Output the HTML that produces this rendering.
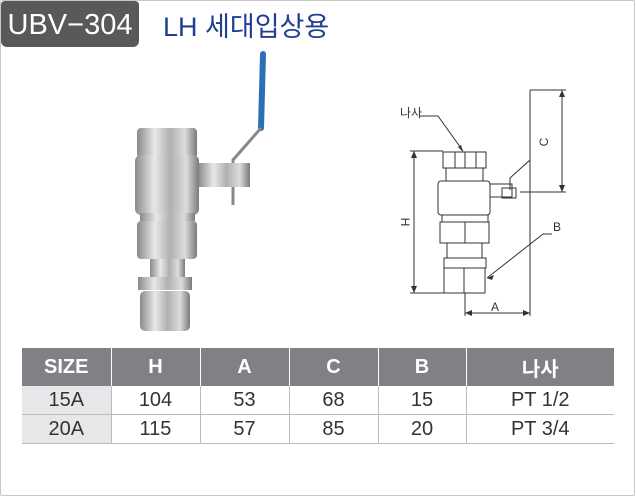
<!DOCTYPE html>
<html><head><meta charset="utf-8"><style>
body{margin:0;width:636px;height:502px;background:#fff;position:relative;overflow:hidden;font-family:"Liberation Sans","Noto Sans CJK KR",sans-serif}
.frame{position:absolute;left:0;top:0;width:633px;height:494px;border:1.5px solid #c8c8c8;border-radius:2px}
.tab{position:absolute;left:1px;top:1px;width:138px;height:46px;background:#58595b;border-radius:4px 4px 6px 6px;color:#fff;font-size:29px;line-height:48px;text-align:center}
.title{position:absolute;left:163px;top:5px;color:#1f3f93;font-size:27px}
table{position:absolute;left:22px;top:348px;border-collapse:collapse;width:592px;font-size:20px;color:#333;table-layout:fixed}
th{background:#808184;color:#fff;height:36px;font-weight:bold;font-size:20px;border-left:1.5px solid #fff}
th:first-child{border-left:none}
td{height:28px;text-align:center;border-left:1.5px solid #bbb;border-bottom:1.5px solid #bbb;padding:0}
td:first-child{background:#e6e7e8;border-left:none}
</style></head><body>
<div class="frame"></div>
<div class="tab">UBV−304</div>
<div class="title">LH 세대입상용</div>
<svg width="636" height="502" style="position:absolute;left:0;top:0">
<defs>
<linearGradient id="m" x1="0" x2="1"><stop offset="0" stop-color="#8a8a8a"/><stop offset=".3" stop-color="#e8e8e8"/><stop offset=".55" stop-color="#b0b0b0"/><stop offset=".8" stop-color="#dcdcdc"/><stop offset="1" stop-color="#7a7a7a"/></linearGradient>
</defs>
<path d="M263 54 L261 128" stroke="#2a6fb8" stroke-width="6" stroke-linecap="round"/>
<path d="M261 128 L233 160 L233 205" stroke="#888" stroke-width="3" fill="none"/>
<rect x="198" y="163" width="52" height="24" fill="url(#m)"/>
<rect x="137" y="128" width="60" height="30" rx="4" fill="url(#m)"/>
<rect x="135" y="155" width="64" height="60" rx="6" fill="url(#m)"/>
<rect x="140" y="213" width="55" height="8" fill="url(#m)"/>
<rect x="137" y="221" width="60" height="38" rx="4" fill="url(#m)"/>
<rect x="150" y="259" width="35" height="18" fill="url(#m)"/>
<rect x="138" y="277" width="54" height="13" fill="url(#m)"/>
<rect x="140" y="291" width="50" height="40" rx="5" fill="url(#m)"/>
<g stroke="#333" stroke-width="1" fill="none">
<path d="M530 90 L530 160 L510 178 L510 190 M530 160 L530 316"/>
<path d="M530 90 H566 M520 192 H566 M562 90 V192"/>
<rect x="443" y="152" width="43" height="16"/>
<path d="M455 152V168 M465 152V168 M476 152V168"/>
<rect x="446" y="168" width="37" height="13"/>
<rect x="438" y="181" width="52" height="34" rx="3"/>
<rect x="490" y="184" width="22" height="13"/>
<rect x="502" y="188" width="14" height="10"/>
<rect x="442" y="215" width="46" height="7"/>
<rect x="440" y="222" width="49" height="21"/>
<path d="M465 222V243"/>
<rect x="447" y="243" width="35" height="15"/>
<rect x="444" y="258" width="42" height="10"/>
<rect x="444" y="268" width="41" height="25"/>
<path d="M464 268V293"/>
<path d="M414 151V293 M410 151H443 M410 293H460"/>
<path d="M465 293V316 M465 313H530"/>
<path d="M438 116L463 151 M420 116H438"/>
<path d="M552 234H543 L487 278"/>
</g>
<g fill="#333">
<path d="M414 151l-3 7h6z M414 293l-3-7h6z M562 90l-3 7h6z M562 192l-3-7h6z M465 313l7-3v6z M530 313l-7-3v6z M463 152l-5-5 3-2z M487 278l7-3-2 5z"/>
</g>
<g font-size="12" fill="#333">
<text x="400" y="117">나사</text>
<text x="553" y="231">B</text>
<text x="491" y="311">A</text>
<text transform="translate(401,222) rotate(90)" text-anchor="middle">H</text>
<text transform="translate(548,142) rotate(-90)" text-anchor="middle">C</text>
</g>
</svg>
<table>
<colgroup><col style="width:89px"><col style="width:89px"><col style="width:89px"><col style="width:89px"><col style="width:88px"><col></colgroup>
<tr><th>SIZE</th><th>H</th><th>A</th><th>C</th><th>B</th><th>나사</th></tr>
<tr><td>15A</td><td>104</td><td>53</td><td>68</td><td>15</td><td>PT 1/2</td></tr>
<tr><td>20A</td><td>115</td><td>57</td><td>85</td><td>20</td><td>PT 3/4</td></tr>
</table>
</body></html>
